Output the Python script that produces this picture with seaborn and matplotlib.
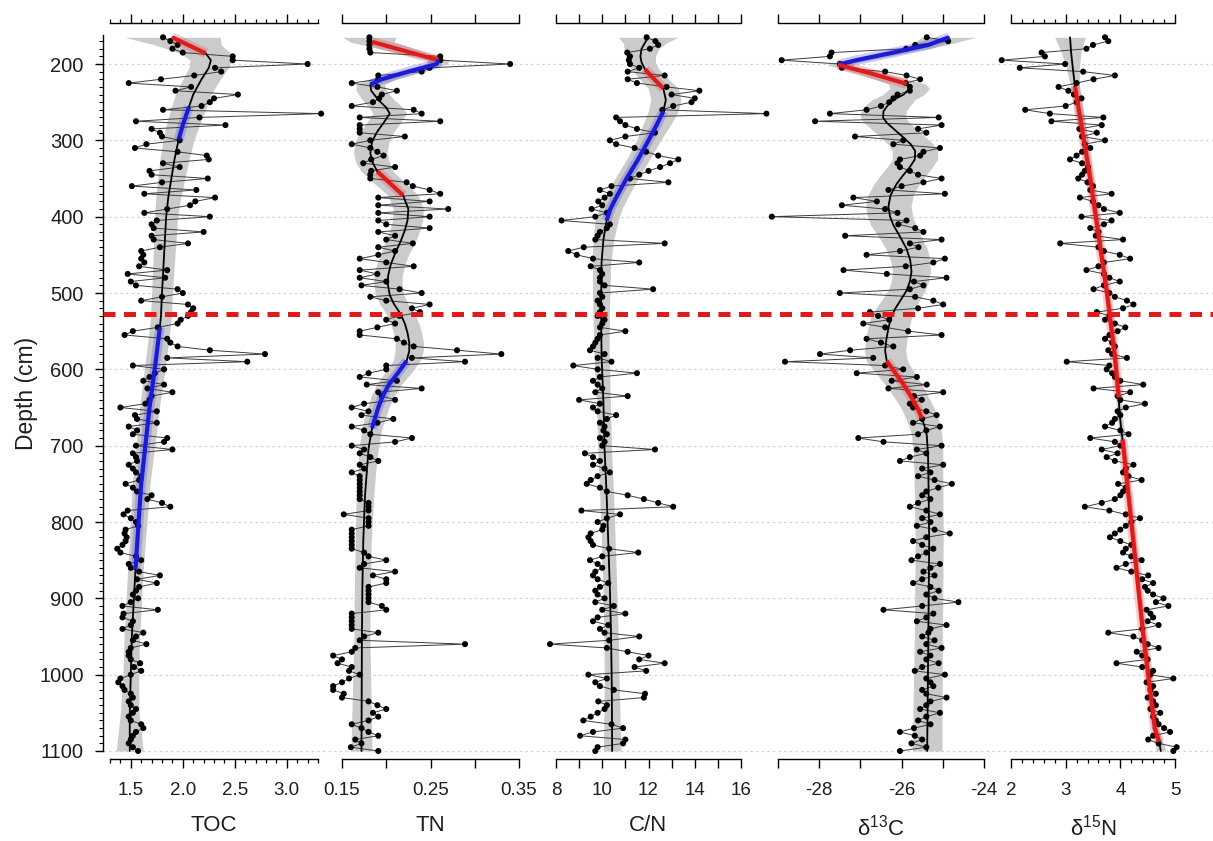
import numpy as np
import pandas as pd
import matplotlib
matplotlib.use("Agg")
import matplotlib.pyplot as plt
from matplotlib.ticker import FixedLocator, FixedFormatter, NullFormatter
import seaborn as sns

# ---------------- data ----------------
DEPTH = [
    165, 170, 175, 180, 185, 190, 195, 200, 205, 210,
    215, 220, 225, 230, 235, 240, 245, 250, 255, 260,
    265, 270, 275, 280, 285, 290, 295, 300, 305, 310,
    315, 320, 325, 330, 335, 340, 345, 350, 355, 360,
    365, 370, 375, 380, 385, 390, 395, 400, 405, 410,
    415, 420, 425, 430, 435, 440, 445, 450, 455, 460,
    465, 470, 475, 480, 485, 490, 495, 500, 505, 510,
    515, 520, 525, 530, 535, 540, 545, 550, 555, 560,
    565, 570, 575, 580, 585, 590, 595, 600, 605, 610,
    615, 620, 625, 630, 635, 640, 645, 650, 655, 660,
    665, 670, 675, 680, 685, 690, 695, 700, 705, 710,
    715, 720, 725, 730, 735, 740, 745, 750, 755, 760,
    765, 770, 775, 780, 785, 790, 795, 800, 805, 810,
    815, 820, 825, 830, 835, 840, 845, 850, 855, 860,
    865, 870, 875, 880, 885, 890, 895, 900, 905, 910,
    915, 920, 925, 930, 935, 940, 945, 950, 955, 960,
    965, 970, 975, 980, 985, 990, 995, 1000, 1005, 1010,
    1015, 1020, 1025, 1030, 1035, 1040, 1045, 1050, 1055, 1060,
    1065, 1070, 1075, 1080, 1085, 1090, 1095, 1100]

TOC = [
    1.81, 1.88, 1.95, 1.90, 2.00, 2.48, 2.48, 3.20, 2.31, 2.37,
    2.11, 1.79, 1.48, 2.08, 1.93, 2.53, 2.30, 2.26, 2.18, 1.81,
    3.33, 2.16, 1.55, 2.41, 1.70, 1.78, 1.80, 1.97, 1.65, 1.54,
    1.95, 2.23, 2.25, 1.81, 1.97, 1.68, 1.70, 2.24, 1.80, 1.51,
    2.13, 1.63, 2.31, 2.12, 2.07, 1.85, 1.63, 2.26, 1.75, 1.70,
    1.72, 2.20, 1.70, 1.72, 2.05, 1.78, 1.60, 1.62, 1.60, 1.63,
    1.58, 1.85, 1.47, 1.83, 1.50, 1.55, 1.95, 2.00, 1.80, 1.60,
    2.05, 2.10, 2.08, 2.05, 1.98, 1.95, 1.76, 1.52, 1.44, 1.85,
    1.88, 1.95, 2.26, 2.79, 1.85, 2.62, 1.52, 1.82, 1.73, 1.68,
    1.62, 1.82, 1.66, 1.90, 1.70, 1.68, 1.64, 1.40, 1.75, 1.54,
    1.56, 1.75, 1.48, 1.56, 1.52, 1.85, 1.82, 1.55, 1.90, 1.52,
    1.55, 1.56, 1.48, 1.52, 1.55, 1.60, 1.58, 1.45, 1.52, 1.56,
    1.70, 1.66, 1.80, 1.88, 1.47, 1.43, 1.50, 1.55, 1.57, 1.45,
    1.44, 1.46, 1.45, 1.42, 1.37, 1.40, 1.55, 1.60, 1.48, 1.50,
    1.58, 1.78, 1.56, 1.75, 1.58, 1.55, 1.52, 1.57, 1.50, 1.42,
    1.76, 1.43, 1.42, 1.52, 1.50, 1.42, 1.62, 1.55, 1.52, 1.65,
    1.50, 1.48, 1.48, 1.50, 1.59, 1.53, 1.60, 1.50, 1.40, 1.38,
    1.42, 1.44, 1.50, 1.52, 1.48, 1.50, 1.55, 1.52, 1.48, 1.50,
    1.60, 1.62, 1.55, 1.52, 1.50, 1.48, 1.52, 1.57]

TN = [
    0.181, 0.181, 0.181, 0.181, 0.182, 0.261, 0.261, 0.340, 0.249, 0.240,
    0.191, 0.191, 0.161, 0.190, 0.212, 0.195, 0.192, 0.185, 0.161, 0.231,
    0.240, 0.170, 0.261, 0.170, 0.170, 0.170, 0.221, 0.182, 0.161, 0.182,
    0.190, 0.197, 0.183, 0.174, 0.210, 0.183, 0.182, 0.182, 0.223, 0.230,
    0.249, 0.261, 0.191, 0.249, 0.191, 0.270, 0.191, 0.249, 0.191, 0.200,
    0.249, 0.191, 0.210, 0.200, 0.230, 0.191, 0.210, 0.191, 0.170, 0.200,
    0.231, 0.170, 0.190, 0.170, 0.200, 0.172, 0.215, 0.240, 0.182, 0.200,
    0.249, 0.229, 0.238, 0.215, 0.200, 0.210, 0.190, 0.170, 0.170, 0.212,
    0.220, 0.231, 0.280, 0.330, 0.229, 0.289, 0.200, 0.200, 0.180, 0.170,
    0.212, 0.178, 0.240, 0.191, 0.195, 0.210, 0.175, 0.161, 0.180, 0.172,
    0.208, 0.190, 0.161, 0.175, 0.182, 0.229, 0.210, 0.161, 0.175, 0.170,
    0.182, 0.191, 0.170, 0.175, 0.161, 0.170, 0.170, 0.170, 0.170, 0.170,
    0.170, 0.170, 0.180, 0.180, 0.180, 0.152, 0.180, 0.180, 0.180, 0.161,
    0.161, 0.161, 0.161, 0.161, 0.161, 0.175, 0.180, 0.200, 0.175, 0.170,
    0.210, 0.185, 0.200, 0.200, 0.180, 0.180, 0.180, 0.180, 0.180, 0.195,
    0.200, 0.161, 0.161, 0.161, 0.161, 0.161, 0.191, 0.175, 0.170, 0.289,
    0.165, 0.161, 0.140, 0.150, 0.145, 0.161, 0.158, 0.170, 0.158, 0.150,
    0.140, 0.140, 0.152, 0.150, 0.180, 0.190, 0.200, 0.185, 0.191, 0.180,
    0.161, 0.172, 0.180, 0.191, 0.165, 0.172, 0.160, 0.191]

CN = [
    11.92, 12.30, 12.42, 12.06, 11.08, 11.20, 11.15, 11.20, 11.60, 11.10,
    12.70, 11.10, 11.50, 12.78, 14.20, 13.00, 14.00, 13.86, 13.07, 12.60,
    17.10, 10.60, 10.77, 11.00, 11.50, 12.28, 11.00, 10.33, 10.60, 11.40,
    11.90, 12.42, 13.29, 12.93, 12.50, 12.00, 11.60, 11.20, 12.86, 10.40,
    9.90, 10.33, 10.10, 9.83, 10.00, 9.54, 10.20, 9.70, 8.24, 10.33,
    10.20, 9.90, 9.80, 9.70, 12.70, 9.20, 8.53, 8.90, 9.60, 11.60,
    9.50, 9.90, 10.00, 9.90, 9.90, 10.10, 12.20, 9.90, 10.00, 9.80,
    9.90, 10.00, 9.90, 9.80, 10.10, 10.00, 9.90, 11.00, 9.90, 9.80,
    9.70, 9.60, 9.47, 10.10, 9.80, 10.40, 8.75, 9.80, 11.50, 9.90,
    9.60, 9.80, 10.00, 9.70, 11.10, 9.00, 9.90, 9.60, 9.80, 10.60,
    10.20, 9.90, 10.10, 10.05, 10.20, 9.90, 10.10, 10.00, 12.28, 9.25,
    9.60, 9.90, 9.60, 10.10, 10.33, 9.80, 9.50, 9.33, 9.90, 10.20,
    11.10, 11.80, 12.42, 13.07, 9.10, 10.77, 10.20, 9.80, 10.05, 10.00,
    9.50, 9.40, 9.50, 9.60, 10.30, 11.56, 10.00, 9.47, 9.80, 10.00,
    9.70, 9.60, 9.80, 10.26, 9.90, 9.70, 9.80, 10.10, 9.70, 10.50,
    10.00, 11.00, 9.80, 9.60, 10.26, 9.90, 10.10, 11.60, 10.30, 7.74,
    10.20, 11.10, 12.00, 11.60, 12.70, 11.40, 11.90, 9.40, 10.20, 9.70,
    9.90, 10.50, 11.85, 11.80, 9.83, 10.20, 10.10, 9.80, 9.50, 9.18,
    10.40, 10.90, 9.60, 9.04, 11.00, 10.90, 9.80, 9.70]

D13C = [
    -25.39, -24.87, -25.67, -25.89, -27.70, -27.74, -28.91, -27.50, -27.45, -26.40,
    -25.88, -25.55, -25.90, -25.80, -25.80, -26.10, -26.20, -26.30, -26.50, -26.85,
    -27.74, -25.10, -28.10, -25.03, -25.60, -25.40, -27.13, -25.96, -26.20, -25.07,
    -25.47, -25.55, -26.04, -26.10, -26.04, -25.80, -25.60, -25.03, -25.47, -26.00,
    -26.32, -24.95, -27.17, -26.60, -27.45, -26.40, -26.10, -29.15, -25.88, -26.08,
    -25.67, -25.47, -27.37, -25.03, -25.80, -25.59, -26.04, -26.85, -24.95, -25.23,
    -25.90, -27.41, -26.36, -24.91, -25.70, -25.47, -25.80, -27.50, -25.67, -25.23,
    -24.99, -25.60, -26.77, -26.57, -26.30, -26.93, -26.40, -25.84, -25.03, -26.85,
    -26.50, -26.20, -27.25, -27.98, -26.69, -28.83, -26.40, -25.96, -27.09, -25.63,
    -26.24, -25.39, -26.32, -24.99, -25.70, -25.51, -25.80, -25.72, -25.40, -25.15,
    -25.50, -25.72, -25.07, -25.40, -25.60, -27.05, -26.44, -25.03, -25.63, -25.40,
    -25.80, -26.04, -24.99, -25.50, -25.30, -25.60, -25.20, -24.78, -25.11, -25.40,
    -25.50, -25.30, -25.60, -25.80, -25.40, -25.07, -25.50, -25.30, -25.63, -25.20,
    -24.83, -25.40, -25.72, -25.50, -25.23, -25.40, -25.60, -25.76, -25.07, -25.30,
    -25.47, -25.20, -25.50, -25.72, -25.30, -25.10, -25.40, -25.20, -24.62, -25.50,
    -26.44, -25.23, -25.40, -25.63, -24.91, -25.30, -25.35, -25.50, -25.20, -25.40,
    -25.03, -25.55, -25.30, -25.40, -25.10, -25.50, -25.68, -24.95, -25.40, -25.30,
    -25.23, -25.50, -25.40, -24.91, -25.30, -25.40, -25.55, -25.07, -25.40, -25.60,
    -25.30, -25.70, -26.04, -25.68, -25.50, -25.76, -25.40, -26.04]

D15N = [
    3.72, 3.78, 3.50, 3.38, 2.56, 2.62, 1.83, 2.99, 2.16, 3.32,
    3.90, 3.51, 3.20, 2.87, 3.05, 3.15, 3.29, 3.20, 3.00, 2.26,
    2.71, 3.69, 2.74, 3.66, 3.25, 3.57, 3.30, 3.72, 3.35, 3.45,
    3.30, 3.20, 3.08, 3.30, 3.41, 3.35, 3.30, 3.23, 3.40, 3.50,
    3.45, 3.84, 3.26, 3.50, 3.60, 3.70, 3.99, 3.29, 3.84, 3.70,
    3.45, 3.60, 3.55, 4.05, 2.90, 3.60, 3.70, 3.99, 4.18, 3.70,
    3.60, 3.38, 3.70, 3.80, 3.99, 3.70, 3.51, 3.80, 3.90, 4.12,
    4.24, 4.05, 3.57, 3.80, 3.72, 3.90, 4.09, 3.95, 3.80, 3.72,
    3.85, 3.90, 3.78, 3.85, 4.12, 3.02, 3.80, 3.75, 3.85, 3.90,
    4.00, 4.42, 3.51, 4.18, 3.95, 4.00, 4.45, 4.10, 3.95, 4.00,
    3.90, 3.85, 3.72, 4.00, 4.15, 3.45, 3.90, 4.00, 3.66, 3.95,
    3.75, 3.90, 4.24, 4.10, 4.05, 4.15, 4.39, 3.96, 4.10, 4.05,
    4.00, 3.90, 3.66, 3.35, 3.80, 4.10, 4.36, 4.20, 4.10, 4.00,
    3.90, 3.81, 4.00, 4.20, 4.10, 4.05, 4.20, 4.39, 4.10, 3.93,
    4.20, 4.51, 4.40, 4.60, 4.45, 4.50, 4.60, 4.79, 4.65, 4.88,
    4.48, 4.55, 4.60, 4.50, 4.70, 4.40, 3.78, 4.24, 4.40, 4.50,
    4.70, 4.30, 4.40, 4.50, 3.93, 4.40, 4.60, 4.55, 4.97, 4.48,
    4.60, 4.55, 4.65, 4.50, 4.60, 4.65, 4.55, 4.73, 4.60, 4.65,
    4.70, 4.80, 4.91, 4.60, 4.51, 4.70, 5.03, 4.97]

# smoothed trend (depth knots, fitted value, half width of confidence band)
TOC_FIT_D = [165, 175, 186, 195, 205, 220, 240, 256, 280, 299, 325, 350, 375, 400, 450,
             500, 530, 545, 600, 650, 700, 750, 800, 862, 900, 950, 1000, 1050, 1100]
TOC_FIT = [1.90, 2.05, 2.22, 2.27, 2.25, 2.18, 2.10, 2.06, 2.00, 1.96, 1.92, 1.89, 1.86, 1.84, 1.82,
           1.80, 1.79, 1.78, 1.73, 1.68, 1.64, 1.60, 1.575, 1.545, 1.53, 1.51, 1.50, 1.49, 1.49]
TOC_CI = [0.46, 0.32, 0.24, 0.20, 0.19, 0.18, 0.17, 0.17, 0.16, 0.15, 0.14, 0.13, 0.12, 0.11, 0.105,
          0.10, 0.10, 0.10, 0.10, 0.095, 0.09, 0.085, 0.08, 0.075, 0.075, 0.075, 0.075, 0.09, 0.13]
TOC_SEG = [(165, 186, "red"), (256, 299, "blue"), (545, 862, "blue")]

TN_FIT_D = [165, 171, 195, 200, 210, 220, 227, 235, 247, 257, 265, 277, 290, 302, 317, 330, 341,
            357, 372, 390, 405, 418, 433, 448, 463, 478, 490, 503, 515, 527, 540, 552, 565, 576,
            589, 605, 620, 635, 650, 665, 677, 690, 704, 735, 765, 826, 887, 950, 1100]
TN_FIT = [0.181, 0.184, 0.259, 0.257, 0.225, 0.195, 0.182, 0.183, 0.191, 0.200, 0.204, 0.197,
          0.189, 0.184, 0.182, 0.185, 0.190, 0.205, 0.219, 0.225, 0.224, 0.221, 0.216, 0.210,
          0.205, 0.202, 0.202, 0.204, 0.209, 0.216, 0.221, 0.224, 0.226, 0.226, 0.223, 0.213,
          0.203, 0.196, 0.191, 0.187, 0.184, 0.182, 0.180, 0.178, 0.176, 0.174, 0.173, 0.1725, 0.172]
TN_CI = [0.030, 0.025, 0.012, 0.012, 0.014, 0.015, 0.016, 0.017, 0.018, 0.019, 0.019, 0.019,
         0.019, 0.019, 0.019, 0.019, 0.018, 0.018, 0.017, 0.017, 0.017, 0.017, 0.017, 0.016,
         0.016, 0.016, 0.016, 0.016, 0.016, 0.016, 0.016, 0.016, 0.016, 0.016, 0.015, 0.015,
         0.014, 0.013, 0.012, 0.012, 0.011, 0.011, 0.011, 0.010, 0.010, 0.009, 0.009, 0.009, 0.012]
TN_SEG = [(171, 195, "red"), (195, 227, "blue"), (341, 372, "red"), (589, 677, "blue")]

CN_FIT_D = [165, 172, 180, 190, 198, 207, 220, 232, 247, 262, 280, 300, 325, 350, 375,
            390, 405, 430, 460, 521, 582, 643, 704, 765, 826, 887, 948, 1009, 1100]
CN_FIT = [11.99, 11.85, 11.70, 11.65, 11.70, 11.85, 12.25, 12.64, 12.75, 12.64, 12.35, 12.00,
          11.55, 11.05, 10.60, 10.35, 10.19, 10.05, 9.97, 9.95, 9.97, 10.05, 10.10, 10.19,
          10.26, 10.33, 10.38, 10.41, 10.43]
CN_CI = [1.30, 0.95, 0.75, 0.65, 0.60, 0.60, 0.62, 0.65, 0.65, 0.65, 0.60, 0.52, 0.50, 0.50,
         0.50, 0.50, 0.50, 0.45, 0.40, 0.36, 0.33, 0.30, 0.30, 0.30, 0.30, 0.30, 0.31, 0.32, 0.38]
CN_SEG = [(207, 232, "red"), (262, 405, "blue")]

D13C_FIT_D = [165, 175, 185, 195, 201, 213, 226, 232, 240, 247, 255, 262, 270, 277, 287, 296,
              305, 314, 325, 335, 347, 357, 372, 387, 400, 411, 427, 442, 457, 472, 485, 497,
              509, 521, 533, 546, 561, 576, 589, 605, 620, 635, 650, 664, 675, 686, 710, 734,
              826, 948, 1100]
D13C_FIT = [-24.85, -25.35, -26.20, -27.10, -27.54, -26.70, -25.88, -25.80, -25.95, -26.20,
            -26.35, -26.44, -26.45, -26.36, -26.15, -25.96, -25.78, -25.67, -25.68, -25.80,
            -25.98, -26.12, -26.27, -26.32, -26.28, -26.20, -26.03, -25.88, -25.79, -25.76,
            -25.80, -25.88, -26.02, -26.16, -26.26, -26.32, -26.37, -26.40, -26.36, -26.15,
            -25.95, -25.78, -25.62, -25.51, -25.44, -25.39, -25.36, -25.35, -25.33, -25.35, -25.38]
D13C_CI = [0.65, 0.45, 0.35, 0.30, 0.28, 0.35, 0.45, 0.48, 0.50, 0.52, 0.55, 0.55, 0.55, 0.55,
           0.55, 0.55, 0.55, 0.55, 0.55, 0.55, 0.55, 0.55, 0.55, 0.55, 0.55, 0.55, 0.52, 0.50,
           0.48, 0.46, 0.45, 0.45, 0.46, 0.48, 0.50, 0.50, 0.50, 0.50, 0.50, 0.47, 0.45, 0.42,
           0.40, 0.39, 0.38, 0.37, 0.36, 0.35, 0.34, 0.34, 0.36]
D13C_SEG = [(165, 201, "blue"), (201, 226, "red"), (589, 664, "red")]

D15N_FIT_D = [165, 185, 205, 229, 350, 497, 582, 637, 661, 692, 698, 826, 948, 1070, 1088, 1100]
D15N_FIT = [3.08, 3.10, 3.13, 3.17, 3.45, 3.75, 3.90, 3.97, 3.99, 4.04, 4.05, 4.24, 4.42, 4.63, 4.71, 4.74]
D15N_CI = [0.28, 0.18, 0.12, 0.08, 0.06, 0.05, 0.05, 0.05, 0.05, 0.05, 0.05, 0.05, 0.05, 0.06, 0.07, 0.09]
D15N_SEG = [(229, 637, "red"), (692, 1088, "red")]

GRID_DEPTHS = [200, 300, 400, 500, 600, 700, 800, 900, 1000, 1100]
BOUNDARY_DEPTH = 528

# ---------------- style ----------------
sns.set_theme(style="white")
plt.rcParams["font.family"] = ["Liberation Sans", "DejaVu Sans"]
plt.rcParams["mathtext.fontset"] = "custom"
plt.rcParams["mathtext.rm"] = "Liberation Sans"
plt.rcParams["mathtext.it"] = "Liberation Sans:italic"
plt.rcParams["mathtext.default"] = "regular"

COLORS = {"red": "#e01b1b", "blue": "#1b1bd6"}
TXT = "#1e1e1e"
W, H = 1213, 841
fig = plt.figure(figsize=(W / 100, H / 100), dpi=100)
fig.patch.set_facecolor("white")

Y_TOP, Y_BOT = 162, 1100
ax_bottom = 1 - 751 / H
ax_height = (751 - 35) / H

df = pd.DataFrame({"depth": DEPTH, "TOC": TOC, "TN": TN, "CN": CN, "D13C": D13C, "D15N": D15N})
for c in ["TOC", "TN", "CN", "D13C", "D15N"]:
    assert len(df[c]) == len(DEPTH)

# background grid spanning all panels
bg = fig.add_axes([103 / W, ax_bottom, 1 - 103 / W, ax_height], zorder=0)
bg.set_xlim(0, 1)
bg.set_ylim(Y_BOT, Y_TOP)
bg.axis("off")
for d in GRID_DEPTHS:
    bg.plot([0, 1], [d, d], color="#d2d2d2", lw=0.9, ls=(0, (2, 2.5)), clip_on=False)

panels = [
    dict(col="TOC", label="TOC", px=(110, 318), lim=(1.3, 3.3),
         major=[1.5, 2.0, 2.5, 3.0], labels=["1.5", "2.0", "2.5", "3.0"],
         minor=[1.3, 1.4, 1.6, 1.7, 1.8, 1.9, 2.1, 2.2, 2.3, 2.4, 2.6, 2.7, 2.8, 2.9, 3.1, 3.2, 3.3],
         fit=(TOC_FIT_D, TOC_FIT, TOC_CI, TOC_SEG)),
    dict(col="TN", label="TN", px=(342, 519), lim=(0.15, 0.35),
         major=[0.15, 0.20, 0.25, 0.30, 0.35], labels=["0.15", "", "0.25", "", "0.35"], minor=[],
         fit=(TN_FIT_D, TN_FIT, TN_CI, TN_SEG)),
    dict(col="CN", label="C/N", px=(556, 741), lim=(8, 16),
         major=[8, 9, 10, 11, 12, 13, 14, 15, 16],
         labels=["8", "", "10", "", "12", "", "14", "", "16"], minor=[],
         fit=(CN_FIT_D, CN_FIT, CN_CI, CN_SEG)),
    dict(col="D13C", label="δ$^{13}$C", px=(778, 984), lim=(-29, -24),
         major=[-29, -28, -27, -26, -25, -24], labels=["", "-28", "", "-26", "", "-24"], minor=[],
         fit=(D13C_FIT_D, D13C_FIT, D13C_CI, D13C_SEG)),
    dict(col="D15N", label="δ$^{15}$N", px=(1011, 1175), lim=(2, 5),
         major=[2, 3, 4, 5], labels=["2", "3", "4", "5"],
         minor=[2.2, 2.4, 2.6, 2.8, 3.2, 3.4, 3.6, 3.8, 4.2, 4.4, 4.6, 4.8],
         fit=(D15N_FIT_D, D15N_FIT, D15N_CI, D15N_SEG)),
]

for i, p in enumerate(panels):
    x0, x1 = p["px"]
    ax = fig.add_axes([x0 / W, ax_bottom, (x1 - x0) / W, ax_height], zorder=2 + i)
    ax.set_facecolor("none")
    ax.set_xlim(*p["lim"])
    ax.set_ylim(Y_BOT, Y_TOP)

    fd, fv, ci, segs = p["fit"]
    fd = np.asarray(fd, float)
    fv = np.asarray(fv, float)
    ci = np.asarray(ci, float)
    ax.fill_betweenx(fd, fv - ci, fv + ci, color="#cbcbcb", lw=0, zorder=1, clip_on=False)

    sns.lineplot(data=df, x=p["col"], y="depth", sort=False, estimator=None,
                 color="#3c3c3c", lw=0.7, ax=ax, zorder=2, clip_on=False)
    sns.scatterplot(data=df, x=p["col"], y="depth", color="black", s=19, edgecolor="none",
                    ax=ax, zorder=3, clip_on=False, legend=False)

    ax.plot(fv, fd, color="black", lw=1.3, zorder=4, clip_on=False)
    for (d0, d1, cname) in segs:
        m = (fd >= d0) & (fd <= d1)
        ax.plot(fv[m], fd[m], color=COLORS[cname], lw=7, alpha=0.22, zorder=4.5,
                solid_capstyle="butt", clip_on=False)
        ax.plot(fv[m], fd[m], color=COLORS[cname], lw=3.0, zorder=5,
                solid_capstyle="butt", clip_on=False)

    # spines
    for s in ["left", "right"]:
        ax.spines[s].set_visible(False)
    for s in ["top", "bottom"]:
        ax.spines[s].set_visible(True)
        ax.spines[s].set_color("black")
        ax.spines[s].set_linewidth(1.0)
        ax.spines[s].set_bounds(*p["lim"])
    ax.spines["top"].set_position(("outward", 9))
    ax.spines["bottom"].set_position(("outward", 6))

    ax.xaxis.set_major_locator(FixedLocator(p["major"]))
    ax.xaxis.set_major_formatter(FixedFormatter(p["labels"]))
    if p["minor"]:
        ax.xaxis.set_minor_locator(FixedLocator(p["minor"]))
        ax.xaxis.set_minor_formatter(NullFormatter())
    ax.tick_params(axis="x", which="major", top=True, bottom=True, labeltop=False,
                   labelbottom=True, direction="out", length=6.5, width=1.0,
                   color="black", labelsize=13.5, pad=10, labelcolor=TXT)
    ax.tick_params(axis="x", which="minor", top=True, bottom=True, direction="out",
                   length=3, width=0.9, color="black")
    ax.set_xlabel(p["label"], fontsize=16, labelpad=11, color=TXT)
    ax.set_ylabel("")

    if i == 0:
        ax.spines["left"].set_visible(True)
        ax.spines["left"].set_color("black")
        ax.spines["left"].set_linewidth(1.0)
        ax.spines["left"].set_position(("outward", 5))
        ax.set_yticks(GRID_DEPTHS)
        ax.set_yticklabels([str(d) for d in GRID_DEPTHS])
        ax.set_yticks(list(range(170, 1100, 10)), minor=True)
        ax.tick_params(axis="y", which="major", left=True, direction="out", length=6,
                       width=1.0, color="black", labelsize=14.5, pad=8, labelcolor=TXT)
        ax.tick_params(axis="y", which="minor", left=True, direction="out", length=3,
                       width=0.8, color="black")
        ax.set_ylabel("Depth (cm)", fontsize=16.5, labelpad=1, color=TXT)
    else:
        ax.set_yticks([])
        ax.tick_params(axis="y", which="both", left=False)

# boundary line drawn on top of everything
ov = fig.add_axes([103 / W, ax_bottom, 1 - 103 / W, ax_height], zorder=20)
ov.set_facecolor("none")
ov.set_xlim(0, 1)
ov.set_ylim(Y_BOT, Y_TOP)
ov.axis("off")
ov.plot([0, 1], [BOUNDARY_DEPTH, BOUNDARY_DEPTH], color="#e31a1c", lw=3.6,
        ls=(0, (2.4, 1.7)), clip_on=False)

fig.savefig("out.png", dpi=100, facecolor="white")
